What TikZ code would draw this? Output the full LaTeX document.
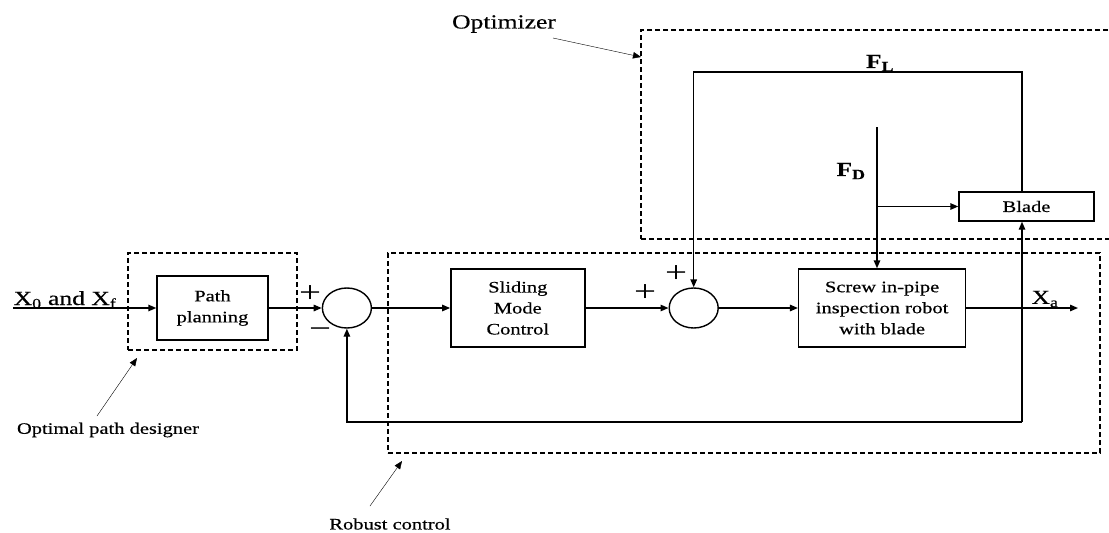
\documentclass[tikz,border=0pt]{standalone}
\usepackage{fontspec}
\setmainfont[FakeStretch=1.28, FakeBold=0.4]{Liberation Serif}
\newfontfamily\signfont[FakeStretch=1.3]{Liberation Serif}
\usetikzlibrary{positioning, arrows.meta, shapes.geometric, calc, fit, backgrounds}

\begin{document}
\begin{tikzpicture}[
    x=1pt, y=-1pt,
    line width=1.4pt,
    box/.style={rectangle, draw, minimum height=78pt, align=center, inner sep=2pt, font=\fontsize{16}{21}\selectfont},
    sumnode/.style={ellipse, draw, minimum width=49pt, minimum height=40pt, inner sep=0pt},
    arrow/.style={-{Triangle[length=8pt, width=6.5pt]}},
    groupbox/.style={draw, line width=1.3pt, dash pattern=on 5pt off 3pt, inner sep=0pt},
    sign/.style={font=\signfont\fontsize{30}{30}\selectfont, inner sep=0pt},
    sig/.style={font=\fontsize{20}{22}\selectfont, inner sep=0pt},
    lbl/.style={font=\fontsize{16}{18}\selectfont, inner sep=0pt},
]
\useasboundingbox (0,0) rectangle (1109,533);

% ============ main loop ============
\coordinate (xin) at (13,308);
\node[box, minimum width=111pt, minimum height=64pt] (plan) at (212.5,308) {Path\\planning};
\node[sumnode, right=53pt of plan] (sum1) {};
\node[box, minimum width=134pt, right=78pt of sum1] (smc) {Sliding\\Mode\\Control};
\node[sumnode, right=83pt of smc] (sum2) {};
\node[box, minimum width=167pt, right=79pt of sum2] (robot) {Screw in-pipe\\inspection robot\\with blade};
\coordinate (xout) at (1078,308);
\coordinate (tap) at (1022,308);

% ============ optimizer ============
\node[box, minimum width=135pt, minimum height=29pt] (blade) at (1026.5,206.5) {Blade};
\coordinate (fd_top) at (877,127);
\coordinate (fd_split) at (877,206.5);
\coordinate (fl_level) at (0,72);
\coordinate (fb_level) at (0,422);

% ============ signals ============
\node[sig, anchor=base west] (xin_lbl) at (13,305) {X\textsubscript{0} and X\textsubscript{f}};
\node[sig] (xa_lbl) at (1045,299) {X\textsubscript{a}};
\node[sig] (fl_lbl) at (880,63) {\textbf{F\textsubscript{L}}};
\node[sig] (fd_lbl) at (851,171) {\textbf{F\textsubscript{D}}};
\node[sign] (plus1) at (310,294) {+};
\node[sign] (minus1) at (320,333) {−};
\node[sign] (plus2) at (645,293) {+};
\node[sign] (plus3) at (676,274) {+};

% ============ arrows ============
\draw[arrow] (xin) -- (plan);
\draw[arrow] (plan) -- (sum1);
\draw[arrow] (sum1) -- (smc);
\draw[arrow] (smc) -- (sum2);
\draw[arrow] (sum2) -- (robot);
\draw[arrow] (robot) -- (xout);

% disturbance and blade
\draw[arrow] (fd_top) -- (fd_top |- robot.north);
\draw[arrow] (fd_split) -- (blade.west);
\draw[arrow] (tap |- blade.north) -- (tap |- fl_level) -| (sum2.north);

% feedback
\draw[arrow] (tap |- fb_level) -- (tap |- blade.south);
\draw[arrow] (tap |- fb_level) -| (sum1.south);

% ============ dashed groups ============
\begin{pgfonlayer}{background}
    \node[groupbox, fit={(128,253) (297,350)}] (path_box) {};
    \node[groupbox, fit={(388,253) (1100,453)}] (robust_box) {};
    \node[groupbox, fit={(641,30) (1118,239)}] (opt_box) {};
\end{pgfonlayer}

% ============ group labels ============
\node[sig] (opt_lbl) at (504,24) {Optimizer};
\node[lbl] (path_lbl) at (108,430) {Optimal path designer};
\node[lbl] (robust_lbl) at (390,524) {Robust control};
\coordinate (opt_from) at (553,38);
\coordinate (opt_to) at (641,57);
\coordinate (path_from) at (97,416);
\coordinate (path_to) at (137,358);
\coordinate (robust_from) at (370,506);
\coordinate (robust_to) at (402,461);
\draw[arrow] (opt_from) -- (opt_to);
\draw[arrow] (path_from) -- (path_to);
\draw[arrow] (robust_from) -- (robust_to);

\end{tikzpicture}
\end{document}
